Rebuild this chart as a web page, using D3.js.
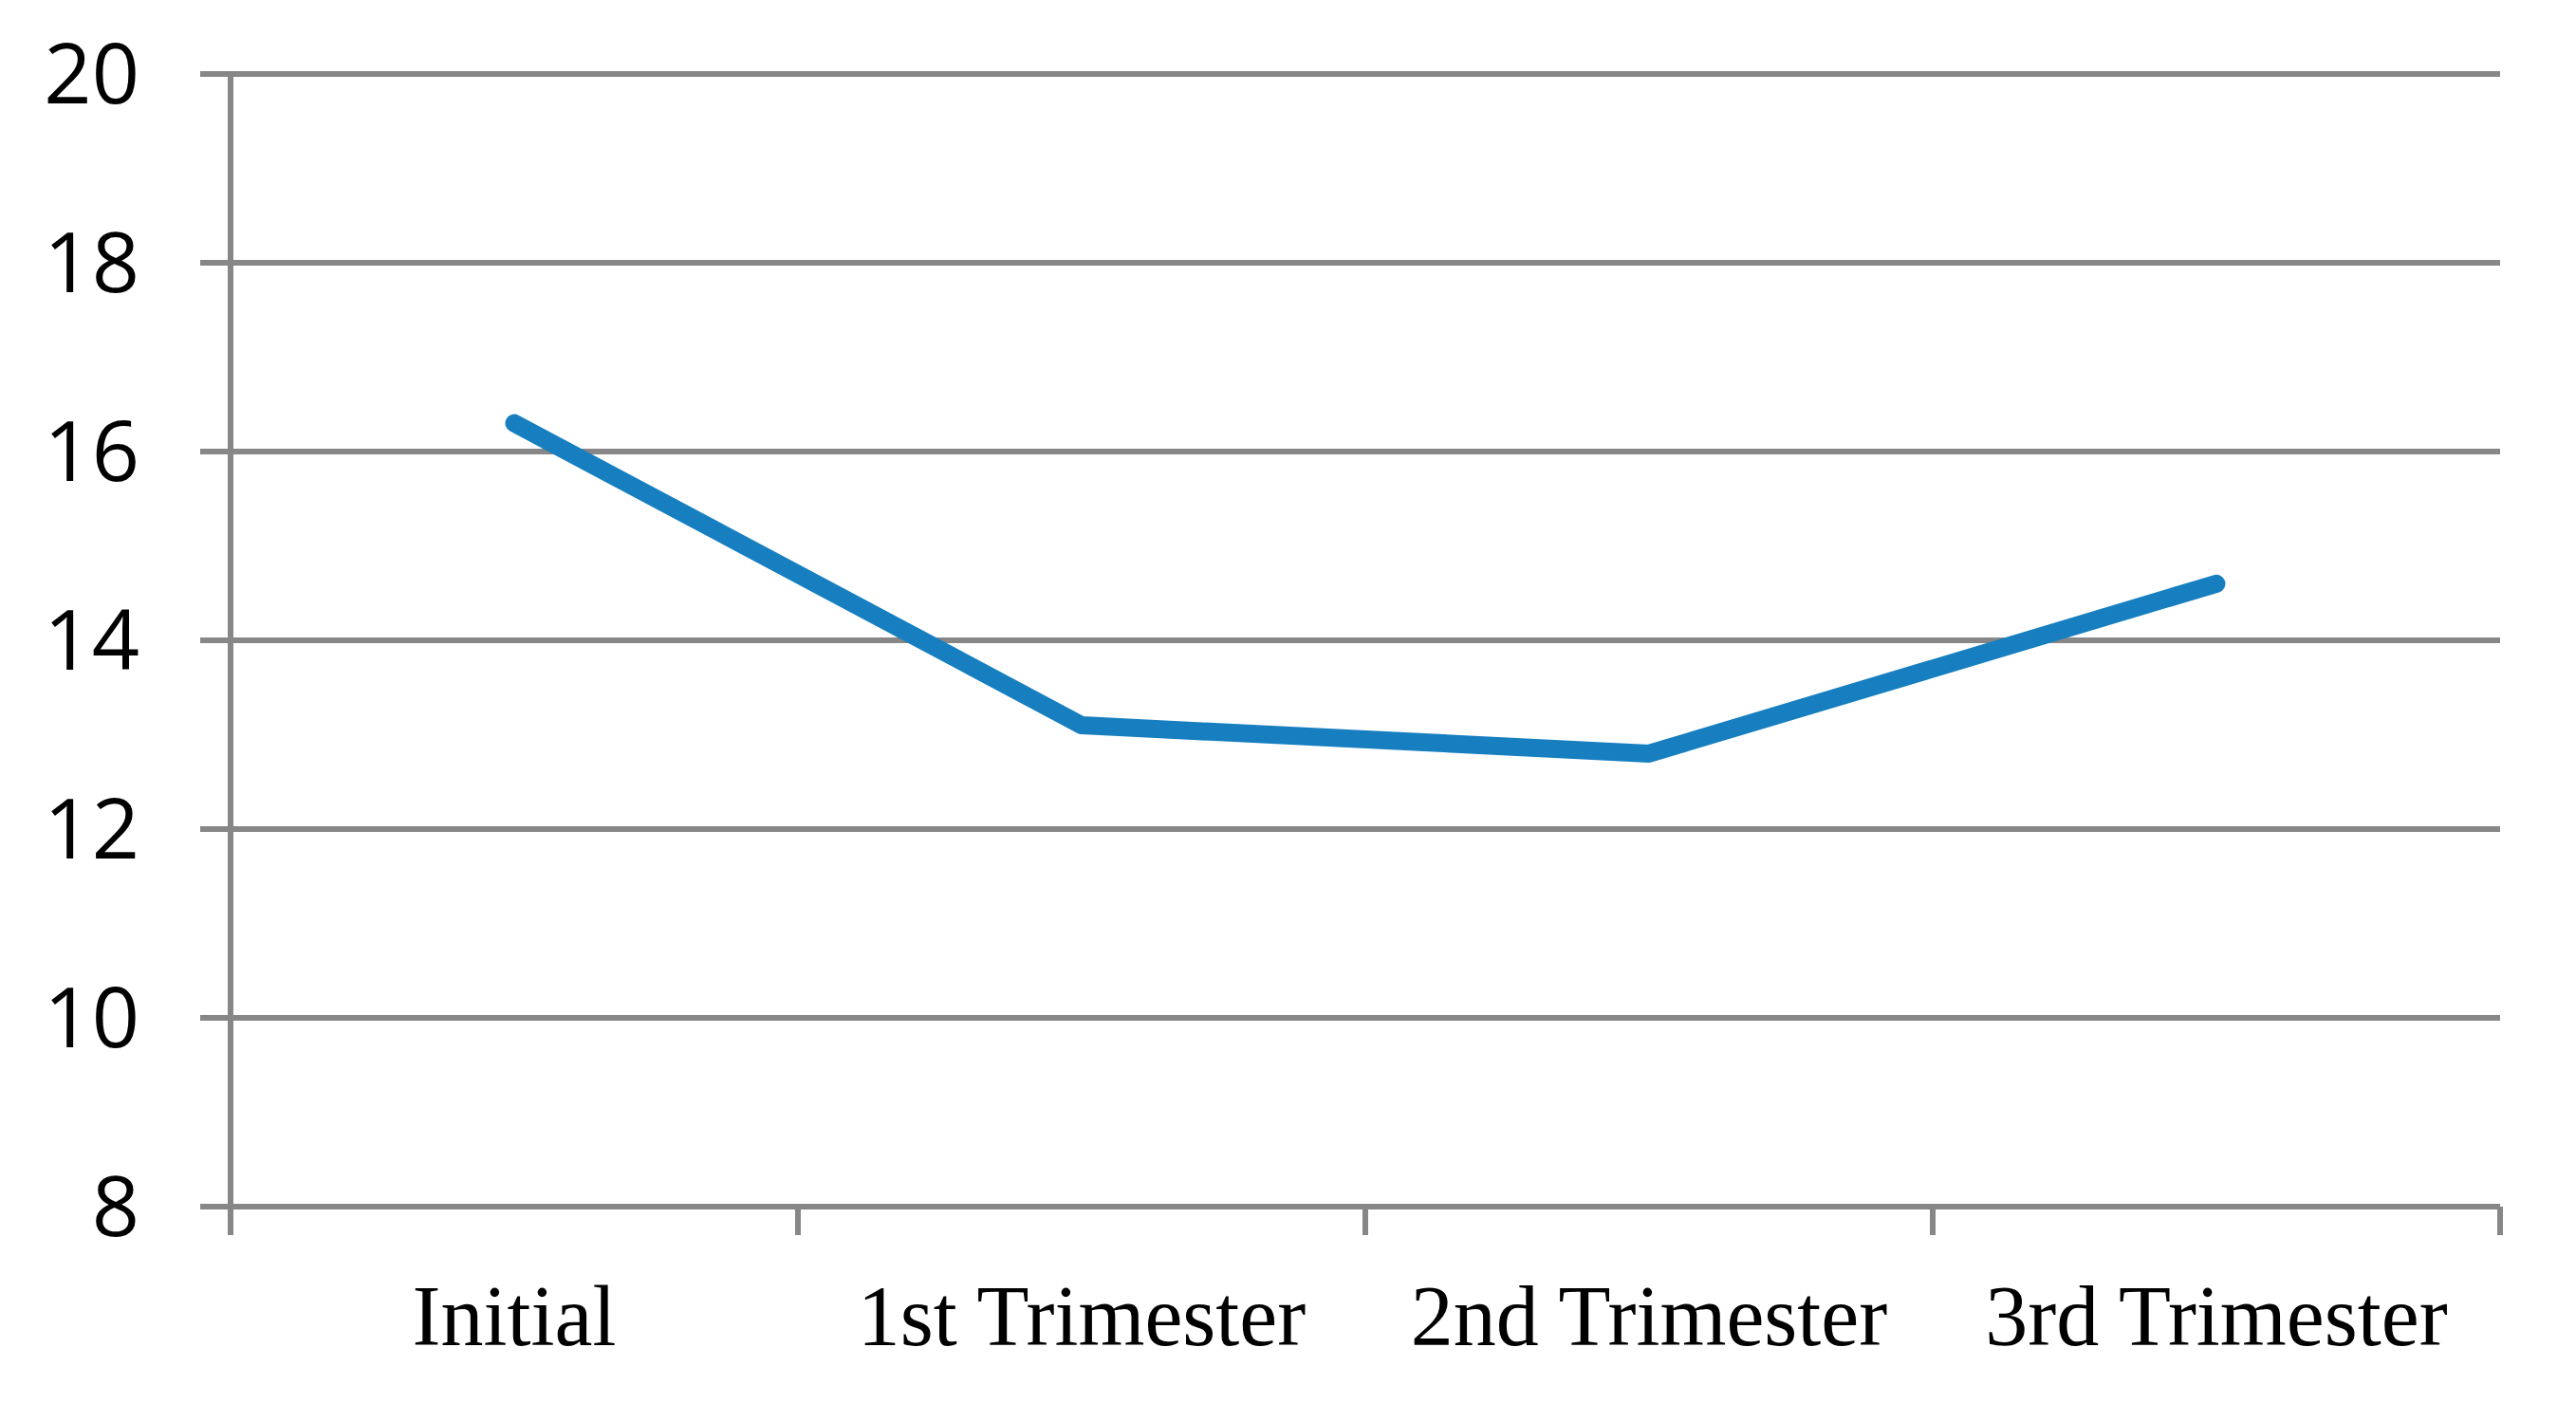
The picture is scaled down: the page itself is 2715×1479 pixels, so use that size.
<html>
<head>
	<meta charset="utf-8">
	<title>trimester line</title>
	<script src="https://d3js.org/d3.v7.min.js"></script>
	<style>
		body {
			margin: 0;
			background: #fff;
		}
		.grid line {
			stroke: #878787;
			stroke-width: 6;
		}
		.ylabel {
			font-family: "Open Sans", "Noto Sans", sans-serif;
			font-size: 88px;
			fill: #000;
		}
		.xlabel {
			font-family: "Liberation Serif", "DejaVu Serif", serif;
			font-size: 90px;
			fill: #000;
		}
		.series {
			fill: none;
			stroke: #177fc0;
			stroke-width: 19;
			stroke-linecap: round;
			stroke-linejoin: round;
		}
	</style>
</head>
<body>
	<svg id="chart"></svg>
</body>
<script>

// Data
var categories = ["Initial", "1st Trimester", "2nd Trimester", "3rd Trimester"];
var values = [16.3, 13.1, 12.8, 14.6];
var yTicks = [8, 10, 12, 14, 16, 18, 20];

var width = 2715;
var height = 1479;
var svg = d3.select("#chart")
	.attr("width", width)
	.attr("height", height);

var x = d3.scaleBand()
	.domain(categories)
	.range([243, 2635]);
var y = d3.scaleLinear()
	.domain([8, 20])
	.range([1272, 78]);

var gridG = svg.append("g").attr("class", "grid");

// Horizontal gridlines, with left ticks
yTicks.forEach(function(t) {
	gridG.append("line")
		.attr("x1", 211)
		.attr("x2", x.range()[1])
		.attr("y1", y(t))
		.attr("y2", y(t));
});

// Vertical axis
gridG.append("line")
	.attr("x1", x.range()[0])
	.attr("x2", x.range()[0])
	.attr("y1", y(20) - 3)
	.attr("y2", y(8) + 30);

// Category ticks on the bottom axis
var edges = categories.map(function(c) { return x(c) + x.bandwidth(); });
edges.forEach(function(e) {
	gridG.append("line")
		.attr("x1", e)
		.attr("x2", e)
		.attr("y1", y(8))
		.attr("y2", y(8) + 30);
});

// Y labels
svg.selectAll(".ylabel")
	.data(yTicks)
	.enter().append("text")
		.attr("class", "ylabel")
		.attr("x", 147)
		.attr("y", function(d) { return y(d); })
		.attr("dy", "0.35em")
		.attr("text-anchor", "end")
		.text(function(d) { return d; });

// X labels
svg.selectAll(".xlabel")
	.data(categories)
	.enter().append("text")
		.attr("class", "xlabel")
		.attr("x", function(d) { return x(d) + x.bandwidth() / 2; })
		.attr("y", 1418)
		.attr("text-anchor", "middle")
		.text(function(d) { return d; });

// Line
var line = d3.line()
	.x(function(d, i) { return x(categories[i]) + x.bandwidth() / 2; })
	.y(function(d) { return y(d); });

svg.append("path")
	.datum(values)
	.attr("class", "series")
	.attr("d", line);

</script>
</html>
